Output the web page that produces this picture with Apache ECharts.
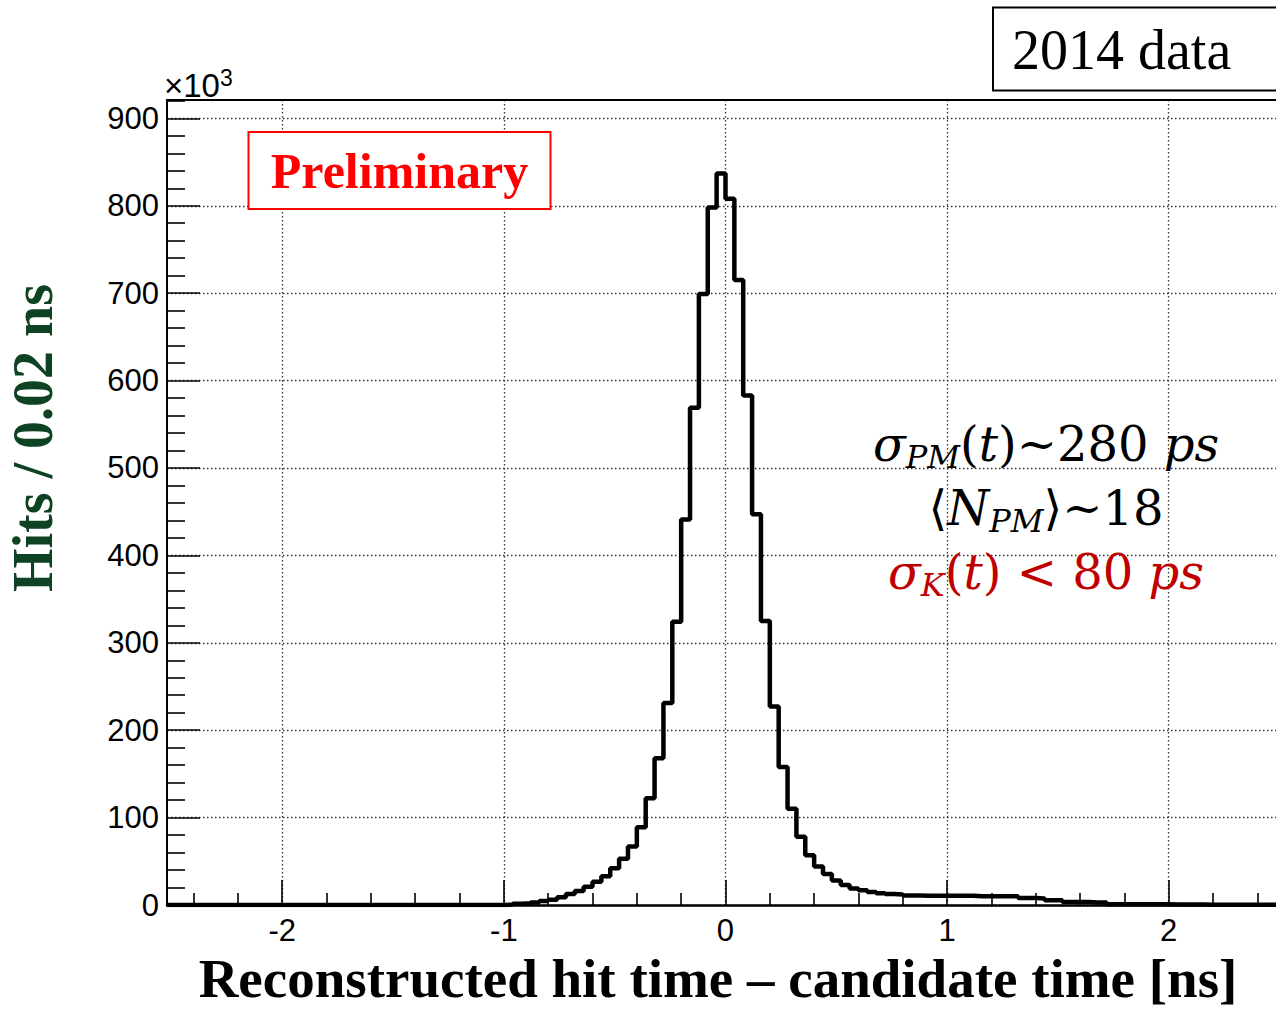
<!DOCTYPE html>
<html>
<head>
<meta charset="utf-8">
<script src="https://cdn.jsdelivr.net/npm/echarts@6/dist/echarts.min.js"></script>
<style>
html,body{margin:0;padding:0;background:#fff;}
#chart{width:1276px;height:1013px;}
</style>
</head>
<body>
<div id="chart"></div>
<script>
// Histogram: bins of 0.04 ns from -2.52 to 2.52 ns (values in units of 10^3 hits)
const binLow = -2.52;
const binWidth = 0.04;
const counts = [
  0,0,0,0,0,0,0,0,0,0, 0,0,0,0,0,0,0,0,0,0,
  0,0,0,0,0,0,0,0,0,0, 0,0,0,0,0,0,0,0,
  0.5,1.5,2,3,4.5,6,9,12.5,16,21,26.5,33,42,53,67,89,122,168,231,324,441,569,699,798,837,
  808,715,583,447,325,227,158,110,78,57,44,35.5,28,23,19,17,15,13.5,12.5,12,
  11,11,10.5,10.5,10.5,10.5,10.5,10.5,10,10,10,10,10,
  8,8,7.5,
  5.5,5.5,
  3.5,3.5,3.5,3,3,
  1,1,1,1,0.8,0.8,0.8,
  0.5,0.5,0.5,0.5,0.4,0.4,0.4,0.3,0.3,0.3,0.3,0.2,0.2
];
const xMajorTicks = [-2, -1, 0, 1, 2];
const xMinorTicks = [-2.4,-2.2,-1.8,-1.6,-1.4,-1.2,-0.8,-0.6,-0.4,-0.2,0.2,0.4,0.6,0.8,1.2,1.4,1.6,1.8,2.2,2.4];
const yMajorTicks = [0,100,200,300,400,500,600,700,800,900];
const yMinorTicks = [20,40,60,80,120,140,160,180,220,240,260,280,320,340,360,380,420,440,460,480,520,540,560,580,620,640,660,680,720,740,760,780,820,840,860,880,920];
const xRange = [-2.52, 2.484];   // right part of the frame is cut by the picture edge
const yRange = [0, 921];
const texts = {
  xTitle: 'Reconstructed hit time \u2013 candidate time [ns]',
  yTitle: 'Hits / 0.02 ns',
  prelim: 'Preliminary',
  dataTag: '2014 data',
  exponent: ['\u00d710', '3']
};

const histData = counts.map((c, i) => [binLow + i * binWidth, c]);
histData.push([binLow + counts.length * binWidth, counts[counts.length - 1]]);

const chart = echarts.init(document.getElementById('chart'), null, {renderer: 'svg'});
const labelFont = {fontFamily: 'Liberation Sans, Arial, sans-serif', fontSize: 31, color: '#000'};
const gridDots = {show: true, lineStyle: {type: [1.5, 2.5], width: 1.3, color: '#333'}};
const mathFont = 'DejaVu Serif, serif';
const mathRich = (color) => ({
  v: {fontFamily: mathFont, fontStyle: 'italic', fontSize: 48, lineHeight: 58, fill: color},
  n: {fontFamily: mathFont, fontSize: 48, lineHeight: 58, fill: color},
  s: {fontFamily: mathFont, fontStyle: 'italic', fontSize: 32, lineHeight: 26, verticalAlign: 'bottom', fill: color}
});

chart.setOption({
  animation: false,
  grid: {left: 167, top: 100, right: 0, bottom: 108, containLabel: false},
  xAxis: [
    {type: 'value', min: xRange[0], max: xRange[1], position: 'bottom',
     axisLine: {show: true, onZero: false, lineStyle: {color: '#000', width: 2.5}},
     axisTick: {show: true, inside: true, length: 25, customValues: xMajorTicks, lineStyle: {color: '#000', width: 1.6}},
     axisLabel: Object.assign({show: true, margin: 10, customValues: xMajorTicks}, labelFont),
     splitLine: gridDots},
    {type: 'value', min: xRange[0], max: xRange[1], position: 'bottom',
     axisLine: {show: false, onZero: false},
     axisTick: {show: true, inside: true, length: 12, customValues: xMinorTicks, lineStyle: {color: '#000', width: 1.6}},
     axisLabel: {show: false}, splitLine: {show: false}},
    {type: 'value', min: xRange[0], max: xRange[1], position: 'top',
     axisLine: {show: true, onZero: false, lineStyle: {color: '#000', width: 2}},
     axisTick: {show: false}, axisLabel: {show: false}, splitLine: {show: false}}
  ],
  yAxis: [
    {type: 'value', min: yRange[0], max: yRange[1], position: 'left',
     axisLine: {show: true, onZero: false, lineStyle: {color: '#000', width: 2}},
     axisTick: {show: true, inside: true, length: 33, customValues: yMajorTicks, lineStyle: {color: '#000', width: 1.6}},
     axisLabel: Object.assign({show: true, margin: 8, customValues: yMajorTicks}, labelFont),
     splitLine: gridDots},
    {type: 'value', min: yRange[0], max: yRange[1], position: 'left',
     axisLine: {show: false, onZero: false},
     axisTick: {show: true, inside: true, length: 18, customValues: yMinorTicks, lineStyle: {color: '#000', width: 1.6}},
     axisLabel: {show: false}, splitLine: {show: false}}
  ],
  series: [{
    type: 'line', xAxisIndex: 0, yAxisIndex: 0, step: 'end', data: histData,
    showSymbol: false, symbol: 'none', clip: true,
    lineStyle: {color: '#000', width: 4.5}, z: 5
  }],
  graphic: [
    {type: 'text', x: 164, y: 84, z: 50, style: {text: '{a|' + texts.exponent[0] + '}{b|' + texts.exponent[1] + '}',
      textVerticalAlign: 'middle', verticalAlign: 'middle',
      rich: {a: {fontFamily: 'Liberation Sans, Arial', fontSize: 33, lineHeight: 36, verticalAlign: 'bottom', fill: '#000'},
             b: {fontFamily: 'Liberation Sans, Arial', fontSize: 23, lineHeight: 36, verticalAlign: 'top', fill: '#000'}}}},
    {type: 'rect', z: 60, shape: {x: 248.5, y: 132, width: 302, height: 77},
     style: {fill: '#fff', stroke: '#ff0000', lineWidth: 2}},
    {type: 'text', z: 61, x: 399.5, y: 171, style: {text: texts.prelim, fill: '#ff0000',
      font: 'bold 50px "Liberation Serif", serif', textAlign: 'center', textVerticalAlign: 'middle', verticalAlign: 'middle'}},
    {type: 'rect', z: 60, shape: {x: 993, y: 7.5, width: 300, height: 83},
     style: {fill: '#fff', stroke: '#000', lineWidth: 2}},
    {type: 'text', z: 61, x: 1012, y: 50, style: {text: texts.dataTag, fill: '#000',
      font: '56px "Liberation Serif", serif', textAlign: 'left', textVerticalAlign: 'middle', verticalAlign: 'middle'}},
    {type: 'text', z: 61, x: 718, y: 1006, style: {text: texts.xTitle, fill: '#000',
      font: 'bold 55px "Liberation Serif", serif', textAlign: 'center', textVerticalAlign: 'bottom', verticalAlign: 'bottom'}},
    {type: 'text', z: 61, x: 33, y: 438, rotation: Math.PI / 2, style: {text: texts.yTitle, fill: '#0d4222',
      font: 'bold 56px "Liberation Serif", serif', textAlign: 'center', textVerticalAlign: 'middle', verticalAlign: 'middle'}},
    {type: 'text', z: 61, x: 1046, y: 444, style: {text: '{v|\u03c3}{s|PM}{n|(}{v|t}{n|)~280 }{v|ps}',
      textAlign: 'center', textVerticalAlign: 'middle', verticalAlign: 'middle', rich: mathRich('#000')}},
    {type: 'text', z: 61, x: 1046, y: 508, style: {text: '{n|\u27e8}{v|N}{s|PM}{n|\u27e9~18}',
      textAlign: 'center', textVerticalAlign: 'middle', verticalAlign: 'middle', rich: mathRich('#000')}},
    {type: 'text', z: 61, x: 1046, y: 572, style: {text: '{v|\u03c3}{s|K}{n|(}{v|t}{n|) < 80 }{v|ps}',
      textAlign: 'center', textVerticalAlign: 'middle', verticalAlign: 'middle', rich: mathRich('#c00000')}}
  ]
});
</script>
</body>
</html>
